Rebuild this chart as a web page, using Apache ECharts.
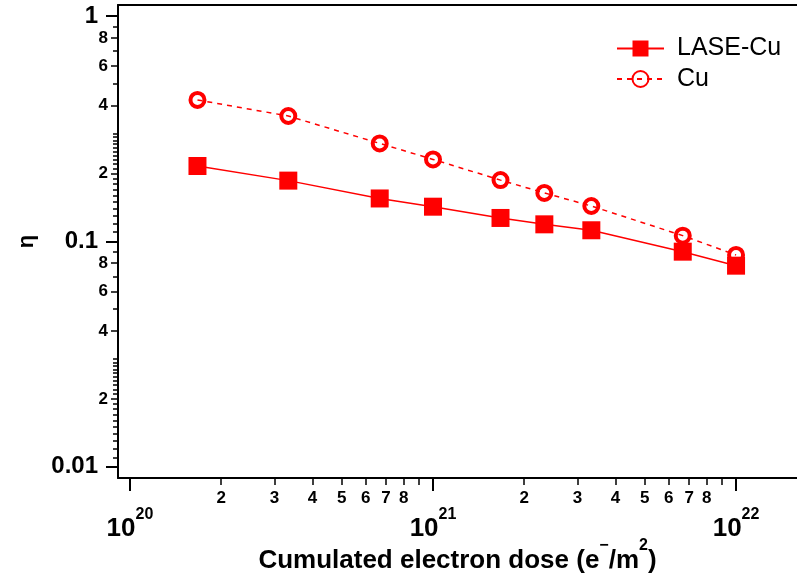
<!DOCTYPE html>
<html>
<head>
<meta charset="utf-8">
<script src="https://cdn.jsdelivr.net/npm/echarts@6/dist/echarts.min.js"></script>
<style>html,body{margin:0;padding:0;background:#fff}#c{width:797px;height:578px}</style>
</head>
<body>
<div id="c"></div>
<script>
// ---- data ----
const doses = [1.67e20, 3.33e20, 6.67e20, 1e21, 1.67e21, 2.33e21, 3.33e21, 6.67e21, 1e22];
const etaLASE = [0.216, 0.186, 0.155, 0.1425, 0.127, 0.119, 0.112, 0.090, 0.078];
const etaCu = [0.424, 0.360, 0.272, 0.231, 0.187, 0.164, 0.1435, 0.106, 0.087];
const seriesNames = ['LASE-Cu', 'Cu'];

// ---- ticks ----
const xMajorTicks = [1e20, 1e21, 1e22];
const xMajorExps = ['20', '21', '22'];
const xMinorTicks = [2e20, 3e20, 4e20, 5e20, 6e20, 7e20, 8e20, 9e20, 2e21, 3e21, 4e21, 5e21, 6e21, 7e21, 8e21, 9e21];
const xMinorLabelTicks = [2e20, 3e20, 4e20, 5e20, 6e20, 7e20, 8e20, 2e21, 3e21, 4e21, 5e21, 6e21, 7e21, 8e21];
const yMajorTicks = [0.01, 0.1, 1];
const yMajorLabels = ['0.01', '0.1', '1'];
const yMinorLabelTicks = [0.02, 0.04, 0.06, 0.08, 0.2, 0.4, 0.6, 0.8];
const yMinorSmallTicks = [0.011, 0.012, 0.013, 0.014, 0.015, 0.016, 0.017, 0.018, 0.019,
  0.021, 0.022, 0.023, 0.024, 0.025, 0.026, 0.027, 0.028, 0.029, 0.03, 0.05, 0.07, 0.09,
  0.11, 0.12, 0.13, 0.14, 0.15, 0.16, 0.17, 0.18, 0.19,
  0.21, 0.22, 0.23, 0.24, 0.25, 0.26, 0.27, 0.28, 0.29, 0.3, 0.5, 0.7, 0.9];

const X_MIN = 9.13e19, X_MAX = 1.589e22;
const Y_MIN = 0.00891, Y_MAX = 1.119;

const FONT = 'Liberation Sans, Arial, Helvetica, sans-serif';
const RED = '#ff0000';

function lead(v) {
  const e = Math.floor(Math.log10(v) + 1e-9);
  return String(Math.round(v / Math.pow(10, e)));
}
function idxOf(arr, v) {
  let best = 0, bd = Infinity;
  arr.forEach((t, i) => { const d = Math.abs(Math.log10(t) - Math.log10(v)); if (d < bd) { bd = d; best = i; } });
  return best;
}

const baseX = { type: 'log', logBase: 10, min: X_MIN, max: X_MAX, gridIndex: 0, splitLine: { show: false }, minorTick: { show: false } };
const baseY = { type: 'log', logBase: 10, min: Y_MIN, max: Y_MAX, gridIndex: 0, splitLine: { show: false }, minorTick: { show: false } };

const chart = echarts.init(document.getElementById('c'), null, { renderer: 'canvas' });
chart.setOption({
  animation: false,
  backgroundColor: '#fff',
  grid: { left: 118, right: 0, top: 5, bottom: 100, containLabel: false, outerBoundsMode: 'none' },
  legend: {
    data: seriesNames,
    orient: 'vertical', left: 616, top: 36, padding: 0,
    itemWidth: 47, itemHeight: 20, itemGap: 5.5,
    textStyle: { fontFamily: FONT, fontSize: 25, color: '#000', padding: [0, 0, 0, 8] },
    selectedMode: false
  },
  xAxis: [
    Object.assign({}, baseX, {
      position: 'bottom',
      name: '{t|Cumulated electron dose (e}{s|\u2212}{t|/m}{s|2}{t|)}',
      nameLocation: 'middle', nameGap: 60, nameMoveOverlap: false,
      nameTextStyle: {
        rich: {
          t: { fontFamily: FONT, fontSize: 26, fontWeight: 'bold', color: '#000', lineHeight: 46 },
          s: { fontFamily: FONT, fontSize: 16, fontWeight: 'bold', color: '#000', lineHeight: 16, verticalAlign: 'top' }
        }
      },
      axisLine: { show: true, onZero: false, lineStyle: { color: '#000', width: 2 } },
      axisTick: { show: true, inside: false, length: 13, customValues: xMajorTicks, lineStyle: { color: '#000', width: 2 } },
      axisLabel: {
        show: true, customValues: xMajorTicks, margin: 29,
        formatter: v => '{b|10}{s|' + xMajorExps[idxOf(xMajorTicks, v)] + '}',
        rich: {
          b: { fontFamily: FONT, fontSize: 26, fontWeight: 'bold', color: '#000', lineHeight: 44 },
          s: { fontFamily: FONT, fontSize: 16, fontWeight: 'bold', color: '#000', lineHeight: 16, verticalAlign: 'top' }
        }
      }
    }),
    Object.assign({}, baseX, {
      position: 'bottom',
      axisLine: { show: false, onZero: false },
      axisTick: { show: true, length: 7, customValues: xMinorTicks, lineStyle: { color: '#000', width: 1.5 } },
      axisLabel: {
        show: true, customValues: xMinorLabelTicks, margin: 12,
        fontFamily: FONT, fontSize: 17, fontWeight: 'bold', color: '#000',
        formatter: v => lead(v)
      }
    }),
    Object.assign({}, baseX, {
      position: 'top',
      axisLine: { show: true, onZero: false, lineStyle: { color: '#000', width: 2 } },
      axisTick: { show: false },
      axisLabel: { show: false }
    })
  ],
  yAxis: [
    Object.assign({}, baseY, {
      position: 'left',
      name: '\u03b7', nameLocation: 'middle', nameGap: 80, nameMoveOverlap: false,
      nameTextStyle: { fontFamily: FONT, fontSize: 22, fontWeight: 'bold', color: '#000' },
      axisLine: { show: true, onZero: false, lineStyle: { color: '#000', width: 2 } },
      axisTick: { show: true, length: 12, customValues: yMajorTicks, lineStyle: { color: '#000', width: 2 } },
      axisLabel: {
        show: true, customValues: yMajorTicks, margin: 20,
        fontFamily: FONT, fontSize: 24, fontWeight: 'bold', color: '#000',
        formatter: v => yMajorLabels[idxOf(yMajorTicks, v)]
      }
    }),
    Object.assign({}, baseY, {
      position: 'left',
      axisLine: { show: false, onZero: false },
      axisTick: { show: true, length: 7, customValues: yMinorLabelTicks, lineStyle: { color: '#000', width: 1.5 } },
      axisLabel: {
        show: true, customValues: yMinorLabelTicks, margin: 10,
        fontFamily: FONT, fontSize: 17, fontWeight: 'bold', color: '#000',
        formatter: v => lead(v)
      }
    }),
    Object.assign({}, baseY, {
      position: 'left',
      axisLine: { show: false, onZero: false },
      axisTick: { show: true, length: 5, customValues: yMinorSmallTicks, lineStyle: { color: '#000', width: 1.5 } },
      axisLabel: { show: false }
    })
  ],
  series: [
    {
      name: 'Cu', type: 'line', xAxisIndex: 0, yAxisIndex: 0,
      data: doses.map((d, i) => [d, etaCu[i]]),
      symbol: 'circle', symbolSize: 14,
      itemStyle: { color: 'transparent', borderColor: RED, borderWidth: 4 },
      lineStyle: { color: RED, width: 1.5, type: [5, 5] },
      emphasis: { disabled: true }, z: 2
    },
    {
      name: 'LASE-Cu', type: 'line', xAxisIndex: 0, yAxisIndex: 0,
      data: doses.map((d, i) => [d, etaLASE[i]]),
      symbol: 'rect', symbolSize: 18,
      itemStyle: { color: RED, borderWidth: 0 },
      lineStyle: { color: RED, width: 1.5 },
      emphasis: { disabled: true }, z: 3
    }
  ]
});
</script>
</body>
</html>
